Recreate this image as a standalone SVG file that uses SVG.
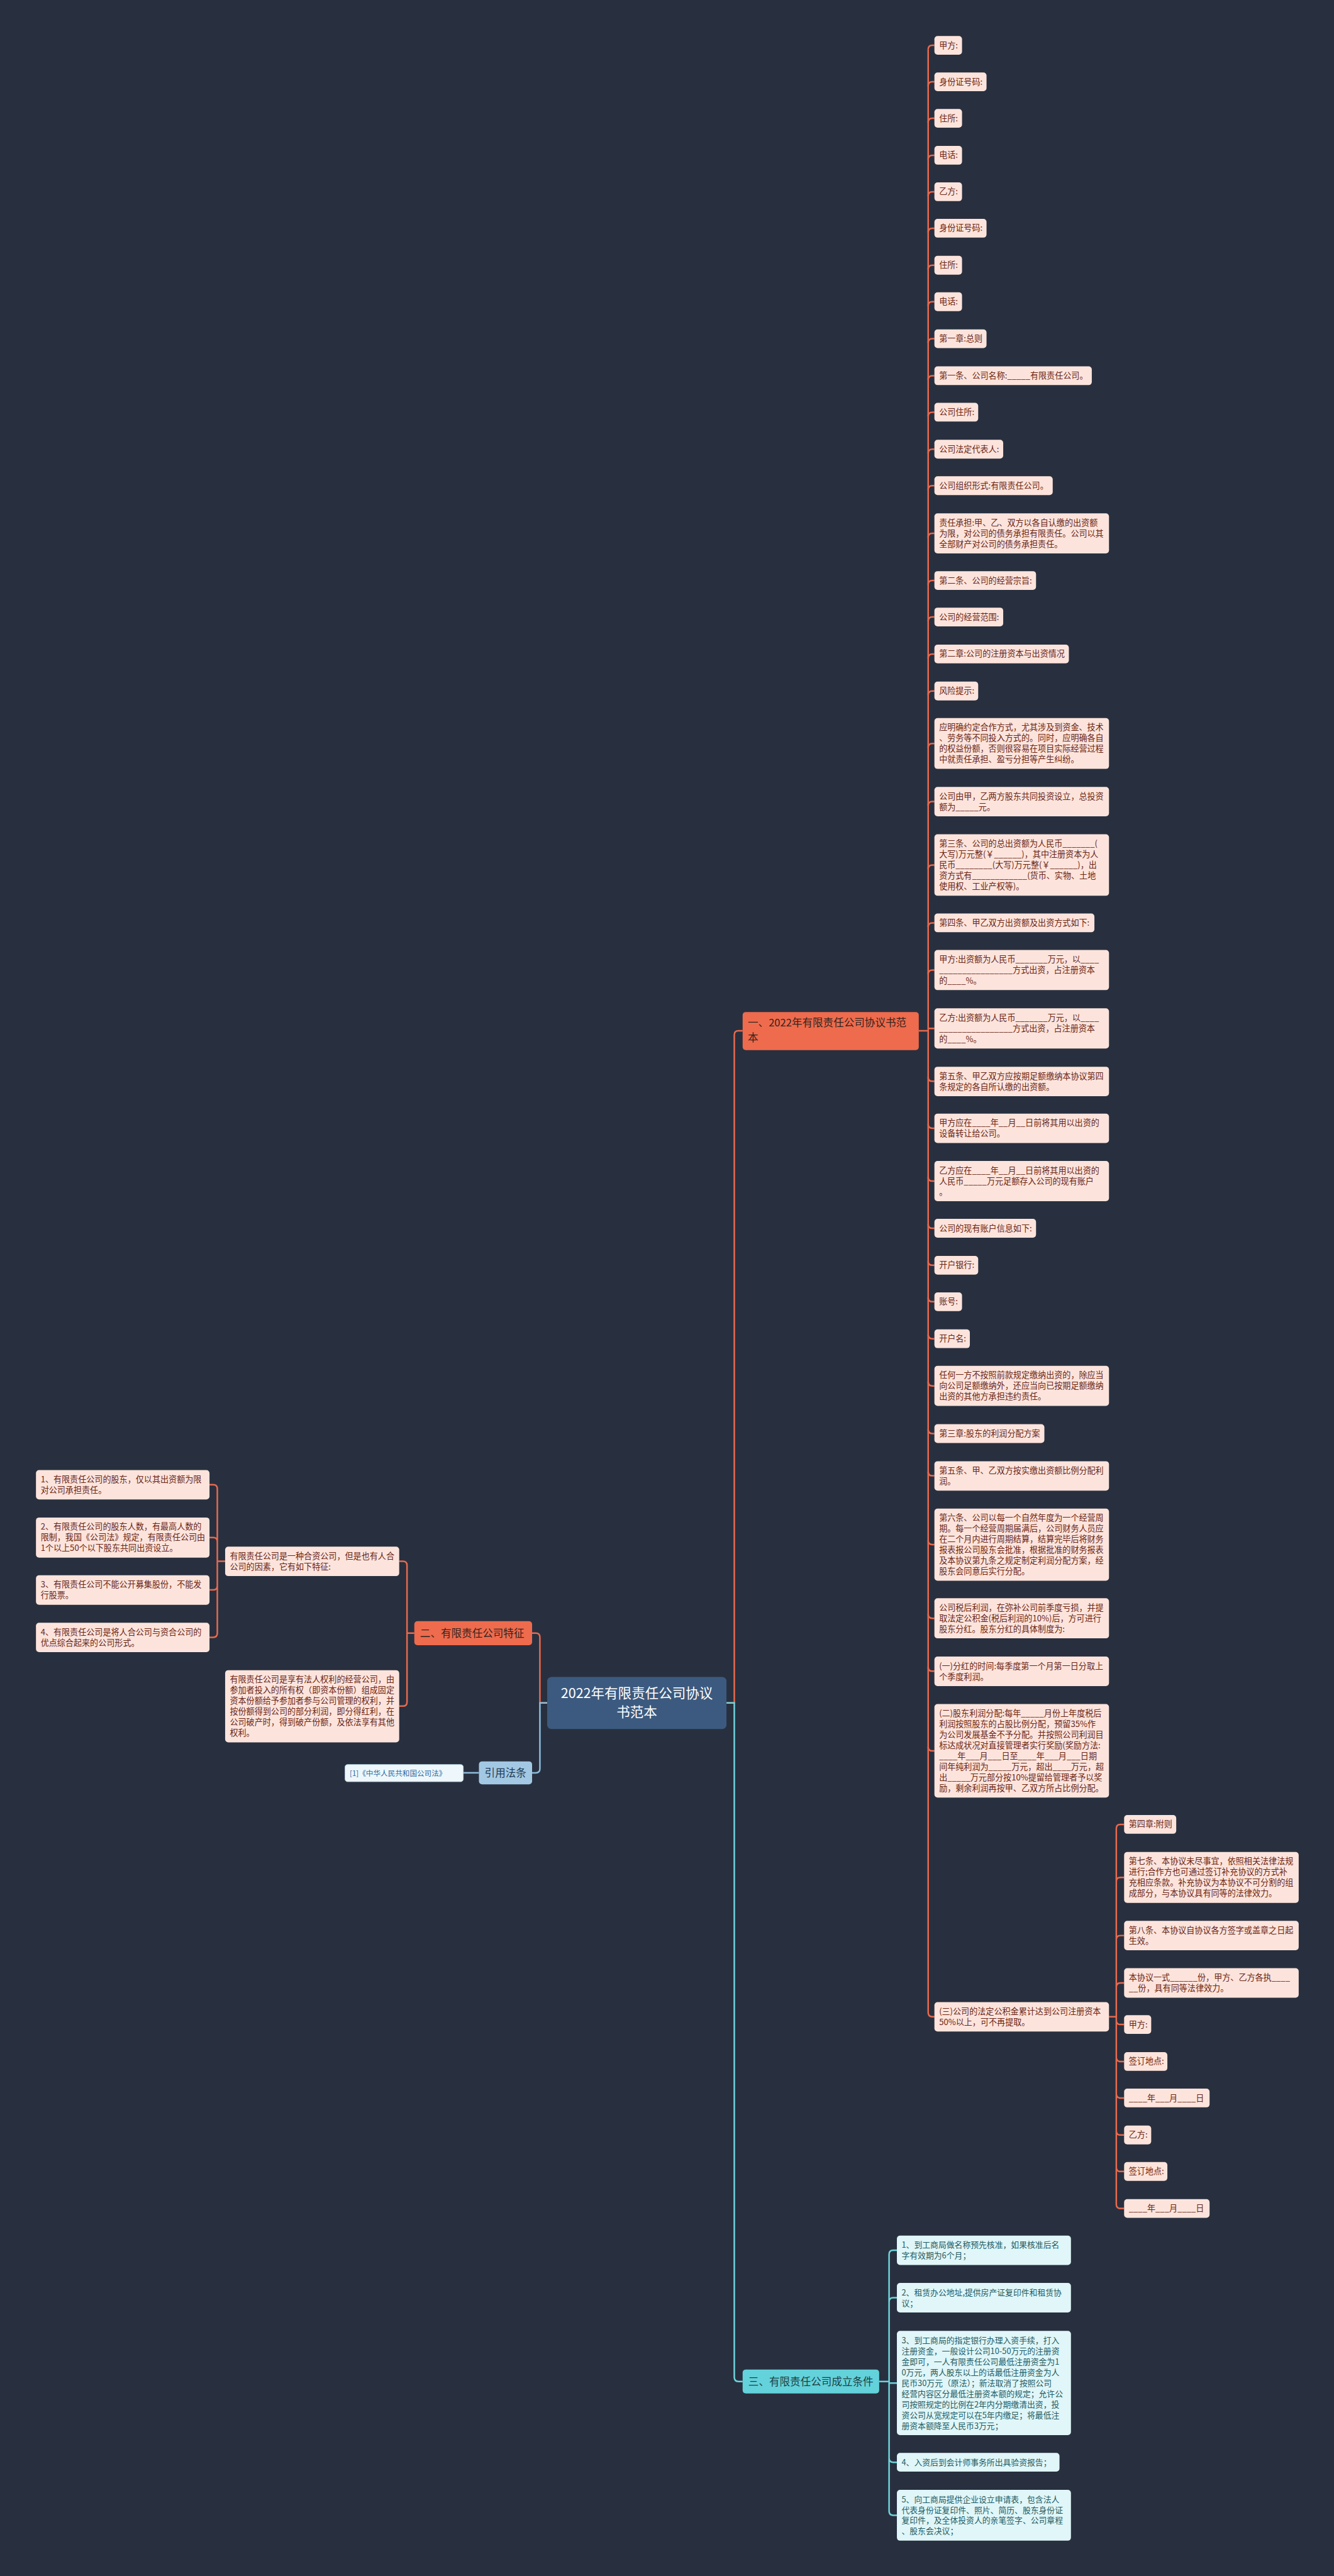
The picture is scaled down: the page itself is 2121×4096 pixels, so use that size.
<svg xmlns="http://www.w3.org/2000/svg" width="2121" height="4096" viewBox="0 0 2121 4096">
<style>
text{font-family:"Noto Sans CJK SC","Noto Sans",sans-serif}
.lf{fill:#fce4dc}
.tl{font-size:15.8px;fill:#6a2515}
.cf{fill:#e0f6f8}
.tc{font-size:15.5px;fill:#1e5c64}
.so{fill:#ee6b4d}
.ts{font-size:20px;fill:#33241e}
.lo{stroke:#e8694e;stroke-width:3;fill:none}
.lc{stroke:#6fd3db;stroke-width:3;fill:none}
.lb{stroke:#8dbcdc;stroke-width:3;fill:none}
</style>
<rect width="2121" height="4096" fill="#28303f"/>
<g transform="scale(0.8286)">
<g id="connectors">
<path class="lo" d="M1394 3268H1409V1986Q1409 1978 1417 1978H1425"/>
<path class="lc" d="M1394 3268H1409V4562Q1409 4570 1417 4570H1425"/>
<path class="lo" d="M1050 3268H1036V3142Q1036 3134 1028 3134H1021"/>
<path class="lb" d="M1050 3268H1036V3394Q1036 3402 1028 3402H1021"/>
<path class="lb" d="M919 3402H889"/>
<path class="lo" d="M795 3134H781V3004Q781 2996 773 2996H766M781 3134V3266Q781 3274 773 3274H766"/>
<path class="lo" d="M432 2996H417V2857Q417 2849 409 2849H402M417 2996V2958.5Q417 2950.5 409 2950.5H402M417 2996V3043Q417 3051 409 3051H402M417 2996V3134Q417 3142 409 3142H402"/>
<path class="lo" d="M1763 1978H1781M1781 95V3862"/>
<path class="lo" d="M1781 95Q1781 87 1789 87H1793M1781 165Q1781 157 1789 157H1793M1781 235Q1781 227 1789 227H1793M1781 306Q1781 298 1789 298H1793M1781 376Q1781 368 1789 368H1793M1781 446Q1781 438 1789 438H1793M1781 517Q1781 509 1789 509H1793M1781 587Q1781 579 1789 579H1793M1781 658Q1781 650 1789 650H1793M1781 729Q1781 721 1789 721H1793M1781 799Q1781 791 1789 791H1793M1781 870Q1781 862 1789 862H1793M1781 940Q1781 932 1789 932H1793M1781 1031.5Q1781 1023.5 1789 1023.5H1793M1781 1122Q1781 1114 1789 1114H1793M1781 1192Q1781 1184 1789 1184H1793M1781 1263Q1781 1255 1789 1255H1793M1781 1334Q1781 1326 1789 1326H1793M1781 1434.75Q1781 1426.75 1789 1426.75H1793M1781 1546Q1781 1538 1789 1538H1793M1781 1668Q1781 1660 1789 1660H1793M1781 1779Q1781 1771 1789 1771H1793M1781 1869.5Q1781 1861.5 1789 1861.5H1793M1781 1973.5H1793"/>
<path class="lo" d="M1781 2067Q1781 2075 1789 2075H1793M1781 2157Q1781 2165 1789 2165H1793M1781 2258.5Q1781 2266.5 1789 2266.5H1793M1781 2349Q1781 2357 1789 2357H1793M1781 2420Q1781 2428 1789 2428H1793M1781 2490Q1781 2498 1789 2498H1793M1781 2561Q1781 2569 1789 2569H1793M1781 2651.5Q1781 2659.5 1789 2659.5H1793M1781 2743Q1781 2751 1789 2751H1793M1781 2824Q1781 2832 1789 2832H1793M1781 2956Q1781 2964 1789 2964H1793M1781 3097.5Q1781 3105.5 1789 3105.5H1793M1781 3199Q1781 3207 1789 3207H1793M1781 3352Q1781 3360 1789 3360H1793M1781 3862Q1781 3870 1789 3870H1793"/>
<path class="lo" d="M2128 3870H2142M2142 3509V4230M2142 3509Q2142 3501 2150 3501H2157M2142 3610.75Q2142 3602.75 2150 3602.75H2157M2142 3722.25Q2142 3714.25 2150 3714.25H2157M2142 3813.25Q2142 3805.25 2150 3805.25H2157M2142 3877Q2142 3885 2150 3885H2157M2142 3948Q2142 3956 2150 3956H2157M2142 4018Q2142 4026 2150 4026H2157M2142 4089Q2142 4097 2150 4097H2157M2142 4159Q2142 4167 2150 4167H2157M2142 4230Q2142 4238 2150 4238H2157"/>
<path class="lc" d="M1687 4570H1706M1706 4326.25V4818.75M1706 4326.25Q1706 4318.25 1714 4318.25H1721M1706 4417.25Q1706 4409.25 1714 4409.25H1721M1706 4573H1721M1706 4717Q1706 4725 1714 4725H1721M1706 4818.75Q1706 4826.75 1714 4826.75H1721"/>
</g>
<g id="center"><rect x="1050" y="3218" width="344" height="100" rx="8" fill="#3c5a7f"/><text x="1222" y="3259" font-size="26" fill="#ffffff" text-anchor="middle">2022年有限责任公司协议</text><text x="1222" y="3295" font-size="26" fill="#ffffff" text-anchor="middle">书范本</text></g>
<g id="sec1"><rect x="1425" y="1942" width="338" height="73" rx="6" class="so"/><text x="1435" y="1970" class="ts">一、2022年有限责任公司协议书范</text><text x="1435" y="1999" class="ts">本</text></g>
<g id="sec2"><rect x="795" y="3111" width="226" height="46" rx="6" class="so"/><text x="806" y="3141" class="ts">二、有限责任公司特征</text></g>
<g id="sec3"><rect x="1425" y="4547" width="262" height="46" rx="6" fill="#63d2da"/><text x="1436" y="4577" class="ts" style="fill:#1d3f44">三、有限责任公司成立条件</text></g>
<g id="ref"><rect x="919" y="3380" width="102" height="44" rx="6" fill="#a3c8e3"/><text x="970" y="3409" font-size="20" fill="#1f3b55" text-anchor="middle">引用法条</text></g>
<g id="ref1"><rect x="662" y="3386" width="227" height="33" rx="5" fill="#eef7fb" stroke="#b6d6ea"/><text x="671" y="3408" font-size="14" fill="#2a6aa5">[1]《中华人民共和国公司法》</text></g>

<g id="n1"><rect x="1793" y="69" width="53" height="36" rx="6" class="lf"/><text x="1802" y="92.5" class="tl">甲方:</text></g>
<g id="n2"><rect x="1793" y="139" width="100" height="36" rx="6" class="lf"/><text x="1802" y="162.5" class="tl">身份证号码:</text></g>
<g id="n3"><rect x="1793" y="209" width="53" height="36" rx="6" class="lf"/><text x="1802" y="232.5" class="tl">住所:</text></g>
<g id="n4"><rect x="1793" y="280" width="53" height="36" rx="6" class="lf"/><text x="1802" y="303.5" class="tl">电话:</text></g>
<g id="n5"><rect x="1793" y="350" width="53" height="36" rx="6" class="lf"/><text x="1802" y="373.5" class="tl">乙方:</text></g>
<g id="n6"><rect x="1793" y="420" width="100" height="36" rx="6" class="lf"/><text x="1802" y="443.5" class="tl">身份证号码:</text></g>
<g id="n7"><rect x="1793" y="491" width="53" height="36" rx="6" class="lf"/><text x="1802" y="514.5" class="tl">住所:</text></g>
<g id="n8"><rect x="1793" y="561" width="53" height="36" rx="6" class="lf"/><text x="1802" y="584.5" class="tl">电话:</text></g>
<g id="n9"><rect x="1793" y="632" width="100" height="36" rx="6" class="lf"/><text x="1802" y="655.5" class="tl">第一章:总则</text></g>
<g id="n10"><rect x="1793" y="703" width="302" height="36" rx="6" class="lf"/><text x="1802" y="726.5" class="tl">第一条、公司名称:_____有限责任公司。</text></g>
<g id="n11"><rect x="1793" y="773" width="84" height="36" rx="6" class="lf"/><text x="1802" y="796.5" class="tl">公司住所:</text></g>
<g id="n12"><rect x="1793" y="844" width="132" height="36" rx="6" class="lf"/><text x="1802" y="867.5" class="tl">公司法定代表人:</text></g>
<g id="n13"><rect x="1793" y="914" width="227" height="36" rx="6" class="lf"/><text x="1802" y="937.5" class="tl">公司组织形式:有限责任公司。</text></g>
<g id="n14"><rect x="1793" y="985" width="335" height="77" rx="6" class="lf"/><text class="tl"><tspan x="1802" y="1008.5">责任承担:甲、乙、双方以各自认缴的出资额</tspan><tspan x="1802" y="1029">为限，对公司的债务承担有限责任。公司以其</tspan><tspan x="1802" y="1049.5">全部财产对公司的债务承担责任。</tspan></text></g>
<g id="n15"><rect x="1793" y="1096" width="195" height="36" rx="6" class="lf"/><text x="1802" y="1119.5" class="tl">第二条、公司的经营宗旨:</text></g>
<g id="n16"><rect x="1793" y="1166" width="132" height="36" rx="6" class="lf"/><text x="1802" y="1189.5" class="tl">公司的经营范围:</text></g>
<g id="n17"><rect x="1793" y="1237" width="258" height="36" rx="6" class="lf"/><text x="1802" y="1260.5" class="tl">第二章:公司的注册资本与出资情况</text></g>
<g id="n18"><rect x="1793" y="1308" width="84" height="36" rx="6" class="lf"/><text x="1802" y="1331.5" class="tl">风险提示:</text></g>
<g id="n19"><rect x="1793" y="1378" width="335" height="97.5" rx="6" class="lf"/><text class="tl"><tspan x="1802" y="1401.5">应明确约定合作方式，尤其涉及到资金、技术</tspan><tspan x="1802" y="1422">、劳务等不同投入方式的。同时，应明确各自</tspan><tspan x="1802" y="1442.5">的权益份额，否则很容易在项目实际经营过程</tspan><tspan x="1802" y="1463">中就责任承担、盈亏分担等产生纠纷。</tspan></text></g>
<g id="n20"><rect x="1793" y="1510" width="335" height="56.5" rx="6" class="lf"/><text class="tl"><tspan x="1802" y="1533.5">公司由甲，乙两方股东共同投资设立，总投资</tspan><tspan x="1802" y="1554">额为_____元。</tspan></text></g>
<g id="n21"><rect x="1793" y="1601" width="335" height="118" rx="6" class="lf"/><text class="tl"><tspan x="1802" y="1624.5">第三条、公司的总出资额为人民币_______(</tspan><tspan x="1802" y="1645">大写)万元整(￥______)，其中注册资本为人</tspan><tspan x="1802" y="1665.5">民币________(大写)万元整(￥______)，出</tspan><tspan x="1802" y="1686">资方式有____________(货币、实物、土地</tspan><tspan x="1802" y="1706.5">使用权、工业产权等)。</tspan></text></g>
<g id="n22"><rect x="1793" y="1753" width="307" height="36" rx="6" class="lf"/><text x="1802" y="1776.5" class="tl">第四条、甲乙双方出资额及出资方式如下:</text></g>
<g id="n23"><rect x="1793" y="1823" width="335" height="77" rx="6" class="lf"/><text class="tl"><tspan x="1802" y="1846.5">甲方:出资额为人民币_______万元，以____</tspan><tspan x="1802" y="1867">________________方式出资，占注册资本</tspan><tspan x="1802" y="1887.5">的____%。</tspan></text></g>
<g id="n24"><rect x="1793" y="1935" width="335" height="77" rx="6" class="lf"/><text class="tl"><tspan x="1802" y="1958.5">乙方:出资额为人民币_______万元，以____</tspan><tspan x="1802" y="1979">________________方式出资，占注册资本</tspan><tspan x="1802" y="1999.5">的____%。</tspan></text></g>
<g id="n25"><rect x="1793" y="2047" width="335" height="56.5" rx="6" class="lf"/><text class="tl"><tspan x="1802" y="2070.5">第五条、甲乙双方应按期足额缴纳本协议第四</tspan><tspan x="1802" y="2091">条规定的各自所认缴的出资额。</tspan></text></g>
<g id="n26"><rect x="1793" y="2137" width="335" height="56.5" rx="6" class="lf"/><text class="tl"><tspan x="1802" y="2160.5">甲方应在____年__月__日前将其用以出资的</tspan><tspan x="1802" y="2181">设备转让给公司。</tspan></text></g>
<g id="n27"><rect x="1793" y="2228" width="335" height="77" rx="6" class="lf"/><text class="tl"><tspan x="1802" y="2251.5">乙方应在____年__月__日前将其用以出资的</tspan><tspan x="1802" y="2272">人民币_____万元足额存入公司的现有账户</tspan><tspan x="1802" y="2292.5">。</tspan></text></g>
<g id="n28"><rect x="1793" y="2339" width="195" height="36" rx="6" class="lf"/><text x="1802" y="2362.5" class="tl">公司的现有账户信息如下:</text></g>
<g id="n29"><rect x="1793" y="2410" width="84" height="36" rx="6" class="lf"/><text x="1802" y="2433.5" class="tl">开户银行:</text></g>
<g id="n30"><rect x="1793" y="2480" width="53" height="36" rx="6" class="lf"/><text x="1802" y="2503.5" class="tl">账号:</text></g>
<g id="n31"><rect x="1793" y="2551" width="68" height="36" rx="6" class="lf"/><text x="1802" y="2574.5" class="tl">开户名:</text></g>
<g id="n32"><rect x="1793" y="2621" width="335" height="77" rx="6" class="lf"/><text class="tl"><tspan x="1802" y="2644.5">任何一方不按照前款规定缴纳出资的，除应当</tspan><tspan x="1802" y="2665">向公司足额缴纳外，还应当向已按期足额缴纳</tspan><tspan x="1802" y="2685.5">出资的其他方承担违约责任。</tspan></text></g>
<g id="n33"><rect x="1793" y="2733" width="211" height="36" rx="6" class="lf"/><text x="1802" y="2756.5" class="tl">第三章:股东的利润分配方案</text></g>
<g id="n34"><rect x="1793" y="2804" width="335" height="56.5" rx="6" class="lf"/><text class="tl"><tspan x="1802" y="2827.5">第五条、甲、乙双方按实缴出资额比例分配利</tspan><tspan x="1802" y="2848">润。</tspan></text></g>
<g id="n35"><rect x="1793" y="2895" width="335" height="138.5" rx="6" class="lf"/><text class="tl"><tspan x="1802" y="2918.5">第六条、公司以每一个自然年度为一个经营周</tspan><tspan x="1802" y="2939">期。每一个经营周期届满后，公司财务人员应</tspan><tspan x="1802" y="2959.5">在二个月内进行周期结算，结算完毕后将财务</tspan><tspan x="1802" y="2980">报表报公司股东会批准，根据批准的财务报表</tspan><tspan x="1802" y="3000.5">及本协议第九条之规定制定利润分配方案，经</tspan><tspan x="1802" y="3021">股东会同意后实行分配。</tspan></text></g>
<g id="n36"><rect x="1793" y="3067" width="335" height="77" rx="6" class="lf"/><text class="tl"><tspan x="1802" y="3090.5">公司税后利润，在弥补公司前季度亏损，并提</tspan><tspan x="1802" y="3111">取法定公积金(税后利润的10%)后，方可进行</tspan><tspan x="1802" y="3131.5">股东分红。股东分红的具体制度为:</tspan></text></g>
<g id="n37"><rect x="1793" y="3179" width="335" height="56.5" rx="6" class="lf"/><text class="tl"><tspan x="1802" y="3202.5">(一)分红的时间:每季度第一个月第一日分取上</tspan><tspan x="1802" y="3223">个季度利润。</tspan></text></g>
<g id="n38"><rect x="1793" y="3270" width="335" height="179.5" rx="6" class="lf"/><text class="tl"><tspan x="1802" y="3293.5">(二)股东利润分配:每年_____月份上年度税后</tspan><tspan x="1802" y="3314">利润按照股东的占股比例分配，预留35%作</tspan><tspan x="1802" y="3334.5">为公司发展基金不予分配。并按照公司利润目</tspan><tspan x="1802" y="3355">标达成状况对直接管理者实行奖励(奖励方法:</tspan><tspan x="1802" y="3375.5">____年___月___日至____年___月___日期</tspan><tspan x="1802" y="3396">间年纯利润为_____万元，超出____万元，超</tspan><tspan x="1802" y="3416.5">出_____万元部分按10%提留给管理者予以奖</tspan><tspan x="1802" y="3437">励，剩余利润再按甲、乙双方所占比例分配。</tspan></text></g>
<g id="n39"><rect x="1793" y="3842" width="335" height="56.5" rx="6" class="lf"/><text class="tl"><tspan x="1802" y="3865.5">(三)公司的法定公积金累计达到公司注册资本</tspan><tspan x="1802" y="3886">50%以上，可不再提取。</tspan></text></g>

<g id="m1"><rect x="2157" y="3483" width="100" height="36" rx="6" class="lf"/><text x="2166" y="3506.5" class="tl">第四章:附则</text></g>
<g id="m2"><rect x="2157" y="3554" width="335" height="97.5" rx="6" class="lf"/><text class="tl"><tspan x="2166" y="3577.5">第七条、本协议未尽事宜，依照相关法律法规</tspan><tspan x="2166" y="3598">进行;合作方也可通过签订补充协议的方式补</tspan><tspan x="2166" y="3618.5">充相应条款。补充协议为本协议不可分割的组</tspan><tspan x="2166" y="3639">成部分，与本协议具有同等的法律效力。</tspan></text></g>
<g id="m3"><rect x="2157" y="3686" width="335" height="56.5" rx="6" class="lf"/><text class="tl"><tspan x="2166" y="3709.5">第八条、本协议自协议各方签字或盖章之日起</tspan><tspan x="2166" y="3730">生效。</tspan></text></g>
<g id="m4"><rect x="2157" y="3777" width="335" height="56.5" rx="6" class="lf"/><text class="tl"><tspan x="2166" y="3800.5">本协议一式______份，甲方、乙方各执____</tspan><tspan x="2166" y="3821">__份，具有同等法律效力。</tspan></text></g>
<g id="m5"><rect x="2157" y="3867" width="52" height="36" rx="6" class="lf"/><text x="2166" y="3890.5" class="tl">甲方:</text></g>
<g id="m6"><rect x="2157" y="3938" width="83" height="36" rx="6" class="lf"/><text x="2166" y="3961.5" class="tl">签订地点:</text></g>
<g id="m7"><rect x="2157" y="4008" width="164" height="36" rx="6" class="lf"/><text x="2166" y="4031.5" class="tl">____年___月____日</text></g>
<g id="m8"><rect x="2157" y="4079" width="52" height="36" rx="6" class="lf"/><text x="2166" y="4102.5" class="tl">乙方:</text></g>
<g id="m9"><rect x="2157" y="4149" width="83" height="36" rx="6" class="lf"/><text x="2166" y="4172.5" class="tl">签订地点:</text></g>
<g id="m10"><rect x="2157" y="4220" width="164" height="36" rx="6" class="lf"/><text x="2166" y="4243.5" class="tl">____年___月____日</text></g>

<g id="c1"><rect x="1721" y="4290" width="334" height="56.5" rx="6" class="cf"/><text class="tc"><tspan x="1730" y="4313.5">1、到工商局做名称预先核准，如果核准后名</tspan><tspan x="1730" y="4334">字有效期为6个月；</tspan></text></g>
<g id="c2"><rect x="1721" y="4381" width="334" height="56.5" rx="6" class="cf"/><text class="tc"><tspan x="1730" y="4404.5">2、租赁办公地址,提供房产证复印件和租赁协</tspan><tspan x="1730" y="4425">议；</tspan></text></g>
<g id="c3"><rect x="1721" y="4473" width="334" height="200" rx="6" class="cf"/><text class="tc"><tspan x="1730" y="4496.5">3、到工商局的指定银行办理入资手续，打入</tspan><tspan x="1730" y="4517">注册资金，一般设计公司10-50万元的注册资</tspan><tspan x="1730" y="4537.5">金即可，一人有限责任公司最低注册资金为1</tspan><tspan x="1730" y="4558">0万元，两人股东以上的话最低注册资金为人</tspan><tspan x="1730" y="4578.5">民币30万元（原法）；新法取消了按照公司</tspan><tspan x="1730" y="4599">经营内容区分最低注册资本额的规定；允许公</tspan><tspan x="1730" y="4619.5">司按照规定的比例在2年内分期缴清出资，投</tspan><tspan x="1730" y="4640">资公司从宽规定可以在5年内缴足；将最低注</tspan><tspan x="1730" y="4660.5">册资本额降至人民币3万元；</tspan></text></g>
<g id="c4"><rect x="1721" y="4707" width="312" height="36" rx="6" class="cf"/><text x="1730" y="4730.5" class="tc">4、入资后到会计师事务所出具验资报告；</text></g>
<g id="c5"><rect x="1721" y="4778" width="334" height="97.5" rx="6" class="cf"/><text class="tc"><tspan x="1730" y="4801.5">5、向工商局提供企业设立申请表，包含法人</tspan><tspan x="1730" y="4822">代表身份证复印件、照片、简历、股东身份证</tspan><tspan x="1730" y="4842.5">复印件，及全体投资人的亲笔签字、公司章程</tspan><tspan x="1730" y="4863">、股东会决议；</tspan></text></g>

<g id="A"><rect x="432" y="2968" width="334" height="56.5" rx="6" class="lf"/><text class="tl"><tspan x="441" y="2991.5">有限责任公司是一种合资公司，但是也有人合</tspan><tspan x="441" y="3012">公司的因素，它有如下特征:</tspan></text></g>
<g id="B"><rect x="432" y="3205" width="334" height="138.5" rx="6" class="lf"/><text class="tl"><tspan x="441" y="3228.5">有限责任公司是享有法人权利的经营公司，由</tspan><tspan x="441" y="3249">参加者投入的所有权（即资本份额）组成固定</tspan><tspan x="441" y="3269.5">资本份额给予参加者参与公司管理的权利，并</tspan><tspan x="441" y="3290">按份额得到公司的部分利润，即分得红利，在</tspan><tspan x="441" y="3310.5">公司破产时，得到破产份额，及依法享有其他</tspan><tspan x="441" y="3331">权利。</tspan></text></g>
<g id="a1"><rect x="69" y="2821" width="333" height="56.5" rx="6" class="lf"/><text class="tl"><tspan x="78" y="2844.5">1、有限责任公司的股东，仅以其出资额为限</tspan><tspan x="78" y="2865">对公司承担责任。</tspan></text></g>
<g id="a2"><rect x="69" y="2912" width="333" height="77" rx="6" class="lf"/><text class="tl"><tspan x="78" y="2935.5">2、有限责任公司的股东人数，有最高人数的</tspan><tspan x="78" y="2956">限制，我国《公司法》规定，有限责任公司由</tspan><tspan x="78" y="2976.5">1个以上50个以下股东共同出资设立。</tspan></text></g>
<g id="a3"><rect x="69" y="3023" width="333" height="56.5" rx="6" class="lf"/><text class="tl"><tspan x="78" y="3046.5">3、有限责任公司不能公开募集股份，不能发</tspan><tspan x="78" y="3067">行股票。</tspan></text></g>
<g id="a4"><rect x="69" y="3114" width="333" height="56.5" rx="6" class="lf"/><text class="tl"><tspan x="78" y="3137.5">4、有限责任公司是将人合公司与资合公司的</tspan><tspan x="78" y="3158">优点综合起来的公司形式。</tspan></text></g>
</g>
</svg>
